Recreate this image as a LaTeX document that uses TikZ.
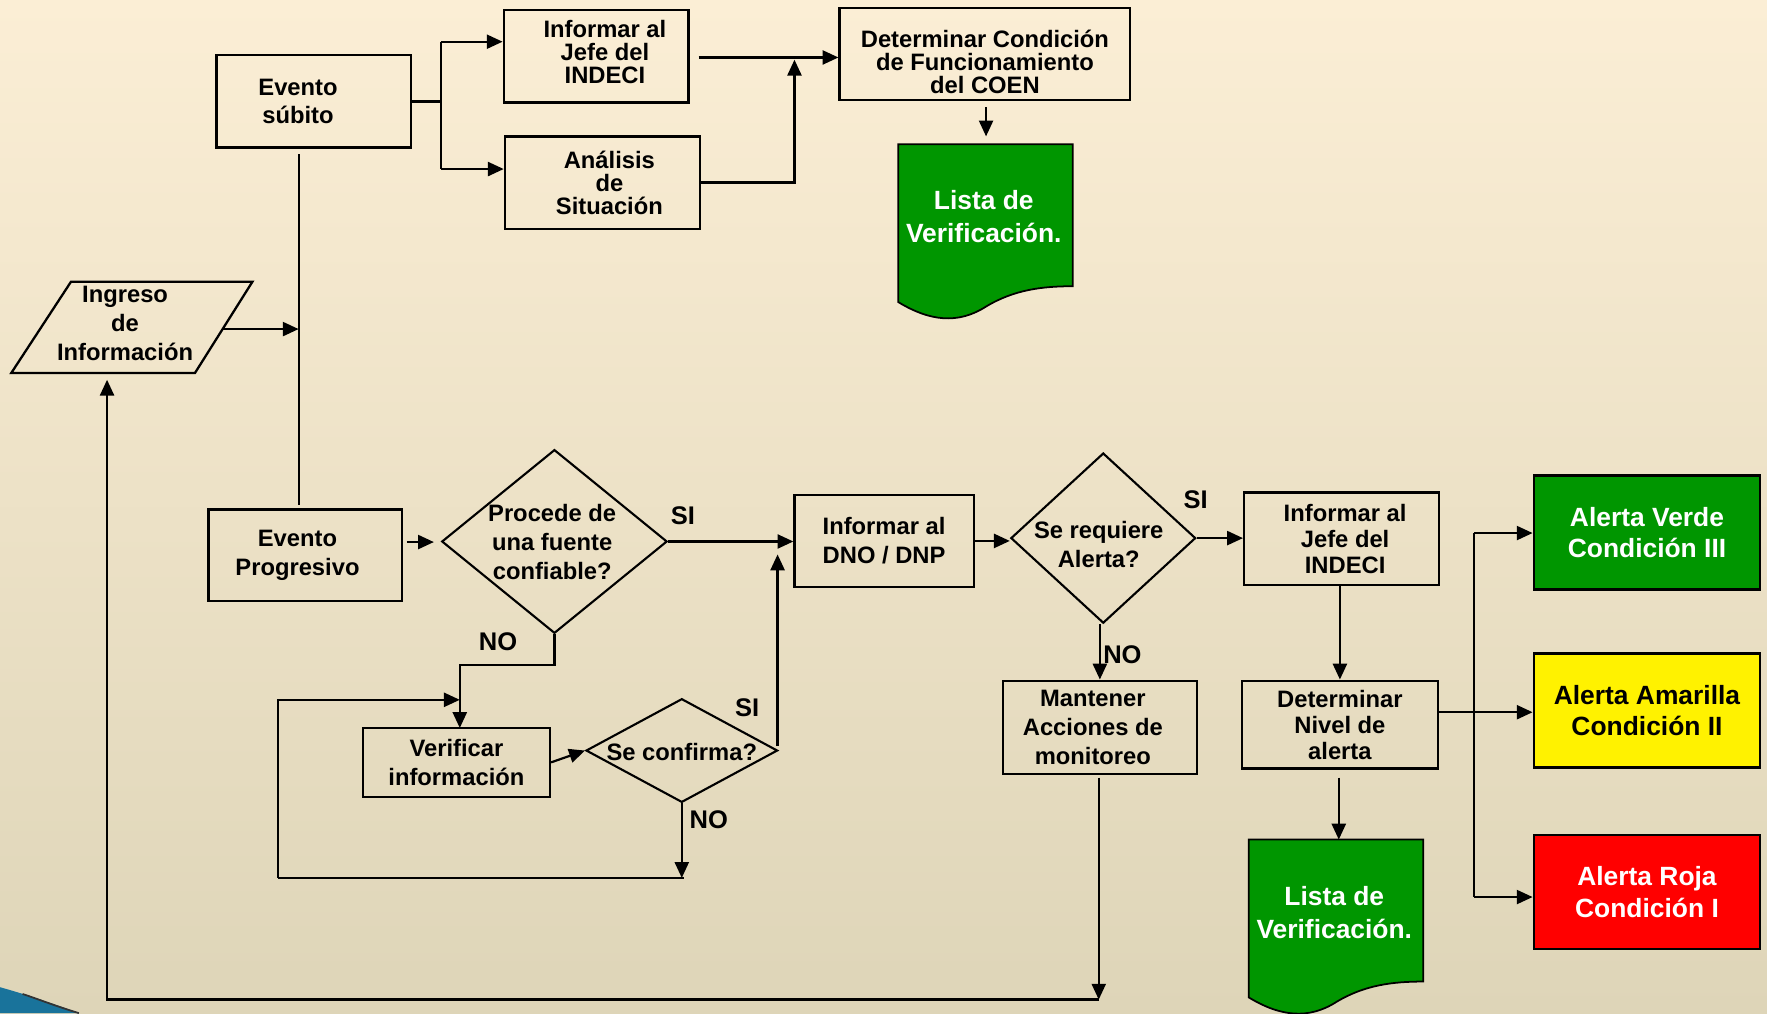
\documentclass[tikz,border=0pt]{standalone}
\usepackage{fontspec}
\setmainfont{Liberation Sans}
\usetikzlibrary{arrows.meta,shapes.geometric}
\definecolor{bgtop}{RGB}{251,238,213}
\definecolor{bgbot}{RGB}{222,213,184}
\definecolor{gr}{RGB}{0,150,0}
\definecolor{swoosh}{RGB}{25,115,155}
\begin{document}
\begin{tikzpicture}[x=0.0225cm,y=-0.0225cm,
  base/.style={font=\bfseries\fontsize{13.5}{16.3}\selectfont,align=center,inner sep=0pt},
  tight/.style={font=\bfseries\fontsize{13.5}{13.1}\selectfont},
  mid/.style={font=\bfseries\fontsize{13.5}{14.8}\selectfont},
  box/.style={draw,line width=1.3pt,base},
  sz/.style 2 args={minimum width=#1*0.0225cm,minimum height=#2*0.0225cm},
  dia/.style={draw,diamond,line width=1.2pt,inner sep=0pt},
  lbl/.style={font=\bfseries\fontsize{14.5}{17}\selectfont,inner sep=0pt},
  big/.style={font=\bfseries\fontsize{15}{17.9}\selectfont,align=center,inner sep=0pt},
  arr/.style={line width=1.25pt,-{Triangle[length=9pt,width=8pt]}},
  ln/.style={line width=1.25pt},
  docshape/.style={fill=gr,draw=black,line width=1pt}]
\useasboundingbox (0,0) rectangle (1568,899);
\fill[top color=bgtop,bottom color=bgbot] (0,0) rectangle (1568,899);
\fill[swoosh] (0,876) .. controls (25,883) and (48,891) .. (70,899) -- (0,899) -- cycle;
\draw[black!80,line width=1pt] (20,882) .. controls (35,887) and (50,893) .. (70,899);

% top part
\node[box,sz={173}{82}] (evs) at (278.5,90) {\hspace*{-18pt}Evento\\\hspace*{-18pt}súbito};
\node[box,tight,sz={164}{82}] (inf1) at (529,50) {\hspace*{10pt}Informar al\\\hspace*{10pt}Jefe del\\\hspace*{10pt}INDECI\rule[-5pt]{0pt}{5pt}};
\node[box,tight,sz={173}{82}] (ana) at (534.5,162) {\hspace*{8pt}Análisis\\\hspace*{8pt}de\\\hspace*{8pt}Situación};
\node[box,tight,sz={258}{82}] (det) at (874,48) {\rule{0pt}{19pt}Determinar Condición\\de Funcionamiento\\del COEN};
\path[docshape] (797,128) -- (952,128) -- (952,254) .. controls (925,254) and (900,257) .. (875,272) .. controls (850,288) and (825,285) .. (797,268) -- cycle;
\node[big,text=white,font=\bfseries\fontsize{15}{18.5}\selectfont] (l1t) at (873,192) {Lista de\\Verificación.};

% Ingreso
\draw[line width=1.3pt] (63,250) -- (224,250) -- (173,331) -- (10,331) -- cycle;
\node[base] (ing) at (111,287) {Ingreso\\de\\Información};

% middle row
\node[box,sz={172}{81}] (evp) at (271,492.5) {\hspace*{-9pt}Evento\\\hspace*{-9pt}Progresivo};
\node[dia,sz={200}{163}] (d1) at (492,480.5) {};
\node[base] (d1t) at (490,481) {Procede de\\una fuente\\confiable?};
\node[box,sz={159}{82}] (dno) at (784.5,480) {Informar al\\DNO / DNP};
\node[box,sz={166}{61}] (ver) at (405,676.5) {Verificar\\información};
\node[dia,sz={170}{92}] (d2) at (605,666) {};
\node[base] (d2t) at (605,667) {Se confirma?};
\node[dia,sz={164}{151}] (d3) at (979,477.5) {};
\node[base] (d3t) at (975,483) {Se requiere\\Alerta?};
\node[box,mid,sz={173}{82}] (inf2) at (1190.5,478) {\hspace*{4pt}Informar al\\\hspace*{4pt}Jefe del\\\hspace*{4pt}INDECI};
\node[box,sz={172}{83}] (man) at (976,645.5) {\hspace*{-8pt}Mantener\\\hspace*{-8pt}Acciones de\\\hspace*{-8pt}monitoreo};
\node[box,mid,sz={174}{78}] (niv) at (1189,643) {Determinar\\Nivel de\\alerta};
\path[docshape] (1108,745) -- (1263,745) -- (1263,871) .. controls (1236,871) and (1211,874) .. (1186,889) .. controls (1161,905) and (1136,902) .. (1108,885) -- cycle;
\node[big,text=white,font=\bfseries\fontsize{15}{18.5}\selectfont] (l2t) at (1184,810) {Lista de\\Verificación.};

\node[box,big,fill=gr,text=white,sz={201}{101}] (verde) at (1461.5,472.5) {Alerta Verde\\Condición III};
\node[box,big,fill=yellow,text=black,sz={201}{101}] (amar) at (1461.5,630.5) {Alerta Amarilla\\Condición II};
\node[box,big,fill=red,text=white,sz={201}{101}] (roja) at (1461.5,791.5) {Alerta Roja\\Condición I};

% labels
\node[lbl] (si1) at (606,458) {SI};
\node[lbl] (no1) at (442,569) {NO};
\node[lbl] (si2) at (663,628) {SI};
\node[lbl] (no2) at (629,727) {NO};
\node[lbl] (si3) at (1061,443) {SI};
\node[lbl] (no3) at (996,581) {NO};

% connectors top
\coordinate (b0) at (391,90);
\coordinate (bt) at (391,37);
\coordinate (bb) at (391,150);
\draw[ln] (evs.east) -- (b0);
\draw[ln] (bt) -- (bb);
\draw[arr] (bt) -- (bt -| inf1.west);
\draw[arr] (bb) -- (bb -| ana.west);
\coordinate (i1o) at (620,51);
\draw[arr] (i1o) -- (i1o -| det.west);
\coordinate (jn) at (705,53);
\draw[arr] (ana.east) -| (jn);
\coordinate (dd) at (875,95);
\coordinate (l1) at (875,121);
\draw[arr] (dd) -- (l1);
\coordinate (vt) at (265,137);
\coordinate (vb) at (265,448);
\draw[ln] (vt) -- (vb);
\coordinate (ingR) at (197,292);
\draw[arr] (ingR) -- (ingR -| vt);

% return loop
\coordinate (mb) at (975,690);
\coordinate (c1) at (975,887);
\coordinate (c2) at (95,887);
\coordinate (ingB) at (95,337);
\draw[arr] (mb) -- (c1);
\draw[arr] (c1) -- (c2) -- (ingB);

% middle connectors
\coordinate (ep) at (361,481);
\coordinate (d1w) at (385,481);
\draw[arr] (ep) -- (d1w);
\draw[arr] (d1.east) -- (d1.east -| dno.west);
\coordinate (nb) at (408,590);
\coordinate (vn) at (408,646);
\draw[arr] (d1.south) |- (nb) -- (vn);
\coordinate (lp1) at (247,779);
\coordinate (lp2) at (247,621);
\coordinate (lp3) at (408,621);
\coordinate (lp4) at (605,779);
\coordinate (lp5) at (607,779);
\draw[arr] (lp1) -- (lp2) -- (lp3);
\draw[arr] (d2.south) -- (lp4);
\draw[ln] (lp1) -- (lp5);
\draw[arr] (ver.east) -- (d2.west);
\coordinate (up) at (690,492);
\coordinate (d2e) at (690,662);
\draw[arr] (d2e) -- (up);
\draw[arr] (dno.east) -- (dno.east -| d3.west);
\draw[arr] (d3.east) -- (d3.east -| inf2.west);
\draw[arr] (man.north |- d3.south) -- (man.north);
\draw[arr] (niv.north |- inf2.south) -- (niv.north);
\coordinate (nvs) at (1188,690);
\coordinate (l2) at (1188,745);
\draw[arr] (nvs) -- (l2);
\coordinate (ne) at (1276,632);
\draw[arr] (ne) -- (ne -| amar.west);
\coordinate (vr1) at (1308,473);
\coordinate (vr2) at (1308,796);
\draw[ln] (vr1) -- (vr2);
\draw[arr] (vr1) -- (vr1 -| verde.west);
\draw[arr] (vr2) -- (vr2 -| roja.west);
\end{tikzpicture}
\end{document}
